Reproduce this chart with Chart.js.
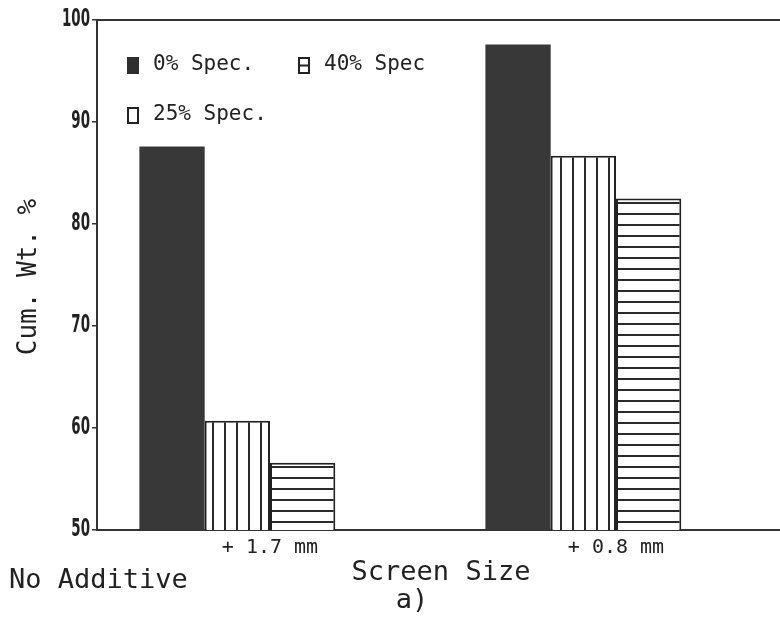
<!DOCTYPE html>
<html>
<head>
<meta charset="utf-8">
<script src="https://cdn.jsdelivr.net/npm/chart.js@4/dist/chart.umd.min.js"></script>
<style>
html,body{margin:0;padding:0;background:#fff;overflow:hidden;width:780px;height:617px;}
#wrap{width:790px;height:617px;}
</style>
</head>
<body>
<div id="wrap"><canvas id="c" width="790" height="617"></canvas></div>
<script>
// ---- data ----
const categories = ['+ 1.7 mm', '+ 0.8 mm'];
const seriesNames = ['0% Spec.', '25% Spec.', '40% Spec'];
const spec0 = [87.6, 97.6];
const spec25 = [60.7, 86.7];
const spec40 = [56.6, 82.5];
const yTicks = [50, 60, 70, 80, 90, 100];
const xTitle = 'Screen Size';
const yTitle = 'Cum. Wt. %';
const subLabel = 'a)';
const noteLabel = 'No Additive';

const MONO = "'DejaVu Sans Mono', 'Liberation Mono', monospace";
const COND = "'DejaVu Sans Condensed', 'DejaVu Sans', sans-serif";
const INK = '#222';

function stripePattern(vertical) {
  const c = document.createElement('canvas');
  const p = vertical ? 12 : 11;
  c.width = p; c.height = p;
  const g = c.getContext('2d');
  g.fillStyle = '#fff';
  g.fillRect(0, 0, p, p);
  g.fillStyle = '#2a2a2a';
  if (vertical) g.fillRect(8, 0, 2, p); else g.fillRect(0, 4, p, 2);
  return g.createPattern(c, 'repeat');
}
const vPat = stripePattern(true);
const hPat = stripePattern(false);

const extras = {
  id: 'extras',
  afterDraw(chart) {
    const ctx = chart.ctx;
    const a = chart.chartArea;
    ctx.save();
    // top frame line
    ctx.strokeStyle = '#333';
    ctx.lineWidth = 2;
    ctx.beginPath();
    ctx.moveTo(a.left - 1, a.top);
    ctx.lineTo(a.right, a.top);
    ctx.stroke();

    // y tick labels (condensed, from the scale's own ticks)
    const ys = chart.scales.y;
    ctx.fillStyle = INK;
    ctx.font = 'bold 24px ' + COND;
    ctx.textAlign = 'right';
    ctx.textBaseline = 'middle';
    ys.ticks.forEach(t => {
      const py = ys.getPixelForValue(t.value);
      ctx.save();
      ctx.translate(a.left - 7, py);
      ctx.scale(0.62, 1);
      ctx.fillText(String(t.value), 0, 0);
      ctx.restore();
    });

    // legend inside plot
    ctx.font = '21px ' + MONO;
    ctx.textBaseline = 'middle';
    ctx.textAlign = 'left';
    const items = [
      {i: 0, x: a.left + 30, y: a.top + 45},
      {i: 2, x: a.left + 201, y: a.top + 45},
      {i: 1, x: a.left + 30, y: a.top + 95}
    ];
    items.forEach(it => {
      const bx = it.x, by = it.y - 8, bw = 12, bh = 17;
      ctx.lineWidth = 2;
      ctx.strokeStyle = INK;
      if (it.i === 0) {
        ctx.fillStyle = '#2e2e2e';
        ctx.fillRect(bx, by, bw, bh);
      } else {
        ctx.strokeRect(bx + 1, by + 1, bw - 2, bh - 2);
        if (it.i === 2) {
          ctx.beginPath();
          ctx.moveTo(bx + 1, by + bh / 2);
          ctx.lineTo(bx + bw - 1, by + bh / 2);
          ctx.stroke();
        }
      }
      ctx.fillStyle = INK;
      ctx.fillText(chart.data.datasets[it.i].label, bx + 26, it.y);
    });

    // axis titles and notes
    ctx.font = '27px ' + MONO;
    ctx.fillStyle = INK;
    ctx.textAlign = 'center';
    ctx.fillText(xTitle, 441, 573);
    ctx.fillText(subLabel, 412, 601);
    ctx.textAlign = 'left';
    ctx.fillText(noteLabel, 9, 581);
    ctx.save();
    ctx.translate(29, 277);
    ctx.rotate(-Math.PI / 2);
    ctx.textAlign = 'center';
    ctx.font = '26px ' + MONO;
    ctx.fillText(yTitle, 0, 0);
    ctx.restore();
    ctx.restore();
  }
};

new Chart(document.getElementById('c'), {
  type: 'bar',
  data: {
    labels: categories,
    datasets: [
      {label: seriesNames[0], data: spec0, backgroundColor: '#383838', borderColor: '#303030', borderWidth: 0},
      {label: seriesNames[1], data: spec25, backgroundColor: vPat, borderColor: INK, borderWidth: 2},
      {label: seriesNames[2], data: spec40, backgroundColor: hPat, borderColor: INK, borderWidth: 2},
      {label: '', data: categories.map(() => null), backgroundColor: 'rgba(0,0,0,0)'}
    ]
  },
  options: {
    responsive: false,
    animation: false,
    layout: {padding: {top: 20, right: 1, left: 0, bottom: 0}},
    plugins: {legend: {display: false}, tooltip: {enabled: false}, title: {display: false}},
    datasets: {bar: {categoryPercentage: 0.755, barPercentage: 1.0, grouped: true}},
    scales: {
      x: {
        grid: {display: false, drawTicks: false},
        border: {display: true, color: '#333', width: 2},
        ticks: {color: INK, font: {family: MONO, size: 20}, padding: 6, maxRotation: 0},
        afterFit(s) { s.height = 87; }
      },
      y: {
        min: 50, max: 100,
        afterBuildTicks(s) { s.ticks = yTicks.map(v => ({value: v})); },
        grid: {display: true, drawOnChartArea: false, drawTicks: true, tickLength: 5, color: '#333', lineWidth: 1.5},
        border: {display: true, color: '#333', width: 2},
        ticks: {display: false},
        afterFit(s) { s.width = 97; }
      }
    }
  },
  plugins: [extras]
});
</script>
</body>
</html>
